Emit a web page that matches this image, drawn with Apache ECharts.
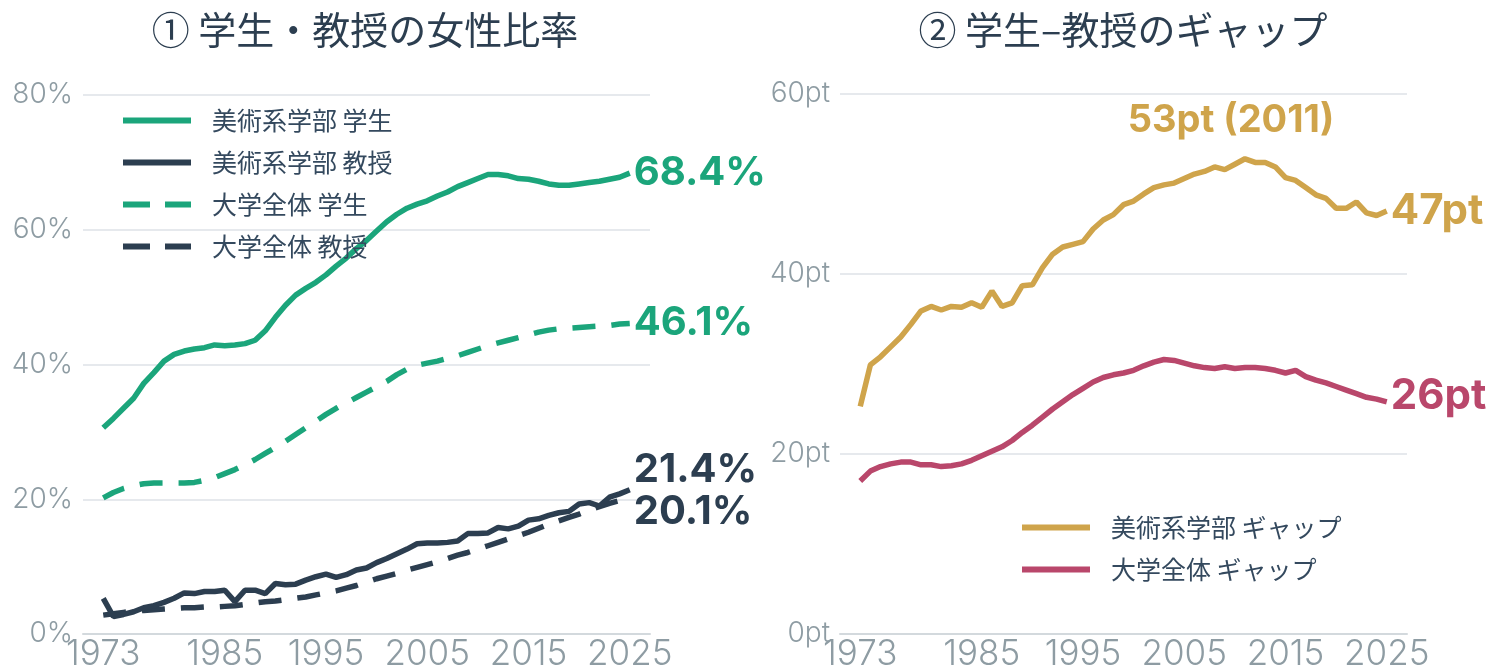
<!DOCTYPE html>
<html>
<head>
<meta charset="utf-8">
<script src="https://cdn.jsdelivr.net/npm/echarts@6/dist/echarts.min.js"></script>
<style>
html, body { margin: 0; padding: 0; background: #fff; }
#chart { width: 1496px; height: 672px; }
</style>
</head>
<body>
<div id="chart"></div>
<script>
// 年
var years = [];
for (var y = 1973; y <= 2025; y++) years.push(y);
var yearTicks = [1973, 1985, 1995, 2005, 2015, 2025];

// 女性比率 (%)
var artStudent = [30.6, 32.0, 33.5, 35.0, 37.2, 38.8, 40.5, 41.5, 42.0, 42.3, 42.5, 42.9, 42.8, 42.9, 43.1, 43.6, 45.0, 47.0, 48.8, 50.3,
	51.3, 52.2, 53.3, 54.6, 55.8, 57.2, 58.4, 59.8, 61.2, 62.3, 63.2, 63.8, 64.3, 65.0, 65.6, 66.4, 67.0, 67.6, 68.2, 68.2,
	68.0, 67.6, 67.5, 67.2, 66.8, 66.6, 66.6, 66.8, 67.0, 67.2, 67.5, 67.8, 68.4];
var artProf = [5.3, 2.6, 2.9, 3.3, 3.9, 4.2, 4.7, 5.3, 6.1, 6.0, 6.3, 6.3, 6.5, 4.8, 6.5, 6.5, 6.0, 7.5, 7.3, 7.4,
	8.0, 8.5, 8.9, 8.4, 8.8, 9.5, 9.8, 10.6, 11.2, 11.9, 12.6, 13.4, 13.5, 13.5, 13.6, 13.8, 14.9, 14.9, 15.0, 15.8,
	15.6, 16.0, 16.9, 17.1, 17.6, 18.0, 18.2, 19.3, 19.5, 19.0, 20.3, 20.8, 21.4];
var allStudent = [20.2, 21.0, 21.6, 22.0, 22.3, 22.4, 22.4, 22.4, 22.4, 22.5, 22.8, 23.2, 23.8, 24.4, 25.1, 25.9, 26.8, 27.7, 28.6, 29.6,
	30.6, 31.6, 32.6, 33.5, 34.3, 35.1, 35.9, 36.7, 37.5, 38.5, 39.3, 39.9, 40.2, 40.5, 40.9, 41.3, 41.8, 42.3, 42.8, 43.2,
	43.6, 44.0, 44.4, 44.8, 45.1, 45.3, 45.4, 45.5, 45.6, 45.7, 45.8, 46.0, 46.1];
var allProf = [2.8, 3.0, 3.2, 3.4, 3.5, 3.6, 3.7, 3.8, 3.9, 3.9, 4.0, 4.0, 4.1, 4.2, 4.4, 4.6, 4.8, 4.9, 5.1, 5.3,
	5.5, 5.8, 6.1, 6.4, 6.8, 7.2, 7.7, 8.2, 8.6, 9.0, 9.5, 9.9, 10.3, 10.7, 11.2, 11.7, 12.1, 12.6, 13.1, 13.6,
	14.1, 14.6, 15.1, 15.7, 16.3, 16.8, 17.3, 17.8, 18.4, 18.9, 19.4, 19.8, 20.1];

// ギャップ (pt)
var artGap = [25.3, 29.9, 30.8, 31.9, 33.0, 34.4, 35.9, 36.4, 36.0, 36.4, 36.3, 36.8, 36.3, 38.1, 36.4, 36.8, 38.7, 38.8, 40.7, 42.2,
	43.0, 43.3, 43.6, 45.0, 46.0, 46.6, 47.7, 48.1, 48.9, 49.6, 49.9, 50.1, 50.6, 51.1, 51.4, 51.9, 51.6, 52.2, 52.8, 52.4,
	52.4, 51.9, 50.7, 50.4, 49.6, 48.8, 48.4, 47.3, 47.3, 48.0, 46.8, 46.5, 47.0];
var allGap = [17.0, 18.1, 18.6, 18.9, 19.1, 19.1, 18.8, 18.8, 18.6, 18.7, 18.9, 19.3, 19.8, 20.3, 20.8, 21.5, 22.4, 23.2, 24.1, 25.0,
	25.8, 26.6, 27.3, 28.0, 28.5, 28.8, 29.0, 29.3, 29.8, 30.2, 30.5, 30.4, 30.1, 29.8, 29.6, 29.5, 29.7, 29.5, 29.6, 29.6,
	29.5, 29.3, 29.0, 29.3, 28.6, 28.2, 27.9, 27.5, 27.1, 26.7, 26.3, 26.1, 25.8];
var peakYear = 2011;

var GREEN = '#1ba57b', NAVY = '#2c3e50', GOLD = '#cfa44b', ROSE = '#b9476b';
var GRAY = '#8e9ca3', TEXT = '#34495e';
var JP = '"Noto Sans CJK JP", "Noto Sans", sans-serif';
var NUM = 'Inter, "Noto Sans", sans-serif';

// 凡例のアイコン
var ICON_SOLID = 'path://M0,0H68V6H0Z';
var ICON_DASH = 'path://M0,0H27V6H0Z M42,0H68V6H42Z';

function pairs(vals) {
	var res = [];
	for (var i = 0; i < years.length; i++) res.push([years[i], vals[i]]);
	return res;
}

function lineSeries(name, vals, color, dashed, idx, endFmt, offset, size) {
	return {
		name: name,
		type: 'line',
		xAxisIndex: idx,
		yAxisIndex: idx,
		data: pairs(vals),
		showSymbol: false,
		symbol: 'none',
		animation: false,
		lineStyle: { color: color, width: 5.5, type: dashed ? [23, 16] : 'solid' },
		itemStyle: { color: color },
		endLabel: {
			show: true,
			formatter: endFmt,
			color: color,
			fontFamily: NUM,
			fontWeight: 'bold',
			fontSize: size || 40,
			distance: 4,
			offset: offset || [0, 0]
		}
	};
}

function xAxis(idx) {
	return {
		type: 'value',
		gridIndex: idx,
		min: 1971,
		max: 2027,
		splitLine: { show: false },
		axisTick: { show: false },
		axisLine: { show: true, lineStyle: { color: '#d3d9dd', width: 2 } },
		axisLabel: {
			customValues: yearTicks,
			color: GRAY,
			fontSize: 35,
			fontFamily: NUM,
			fontWeight: 300,
			margin: 3,
			formatter: function (v) { return String(v); }
		}
	};
}

function yAxis(idx, max, unit) {
	return {
		type: 'value',
		gridIndex: idx,
		min: 0,
		max: max,
		interval: 20,
		axisLine: { show: false },
		axisTick: { show: false },
		splitLine: { lineStyle: { color: '#e6e9ed', width: 2 } },
		axisLabel: {
			color: GRAY,
			fontSize: 28,
			fontFamily: NUM,
			fontWeight: 300,
			margin: 10,
			formatter: '{value}' + unit
		}
	};
}

var pct = function (p) { return p.value[1].toFixed(1) + '%'; };
var pt = function (p) { return Math.round(p.value[1]) + 'pt'; };

var gapArt = lineSeries('美術系学部 ギャップ', artGap, GOLD, false, 1, pt, [0, 0], 42);
gapArt.markPoint = {
	symbol: 'circle',
	symbolSize: 0,
	animation: false,
	data: [{ coord: [peakYear, artGap[years.indexOf(peakYear)]] }],
	label: {
		show: true,
		position: 'inside',
		offset: [-14, -38],
		formatter: Math.round(artGap[years.indexOf(peakYear)]) + 'pt (' + peakYear + ')',
		color: GOLD,
		fontFamily: NUM,
		fontWeight: 'bold',
		fontSize: 38
	}
};

var legendText = { color: TEXT, fontSize: 25, fontFamily: JP, padding: [0, 0, 0, 16] };

var chart = echarts.init(document.getElementById('chart'));
chart.setOption({
	backgroundColor: '#fff',
	animation: false,
	graphic: [
		{ type: 'text', x: 365, y: 30, style: { text: '① 学生・教授の女性比率', align: 'center', verticalAlign: 'middle', fill: NAVY, font: '38px ' + JP } },
		{ type: 'text', x: 1123, y: 30, style: { text: '② 学生–教授のギャップ', align: 'center', verticalAlign: 'middle', fill: NAVY, font: '38px ' + JP } }
	],
	grid: [
		{ left: 83, right: 846, top: 95, bottom: 38 },
		{ left: 840, right: 89, top: 94, bottom: 37 }
	],
	legend: [
		{
			orient: 'vertical', left: 123, top: 108, padding: 0, itemWidth: 68, itemHeight: 6, itemGap: 17,
			data: [
				{ name: '美術系学部 学生', icon: ICON_SOLID },
				{ name: '美術系学部 教授', icon: ICON_SOLID },
				{ name: '大学全体 学生', icon: ICON_DASH },
				{ name: '大学全体 教授', icon: ICON_DASH }
			],
			textStyle: legendText
		},
		{
			orient: 'vertical', left: 1022, top: 515, padding: 0, itemWidth: 68, itemHeight: 6, itemGap: 17,
			data: [
				{ name: '美術系学部 ギャップ', icon: ICON_SOLID },
				{ name: '大学全体 ギャップ', icon: ICON_SOLID }
			],
			textStyle: legendText
		}
	],
	xAxis: [xAxis(0), xAxis(1)],
	yAxis: [yAxis(0, 80, '%'), yAxis(1, 60, 'pt')],
	series: [
		lineSeries('大学全体 学生', allStudent, GREEN, true, 0, pct),
		lineSeries('大学全体 教授', allProf, NAVY, true, 0, pct, [0, 13]),
		lineSeries('美術系学部 学生', artStudent, GREEN, false, 0, pct),
		lineSeries('美術系学部 教授', artProf, NAVY, false, 0, pct, [0, -20]),
		gapArt,
		lineSeries('大学全体 ギャップ', allGap, ROSE, false, 1, pt, [0, -5], 42)
	]
});
</script>
</body>
</html>
